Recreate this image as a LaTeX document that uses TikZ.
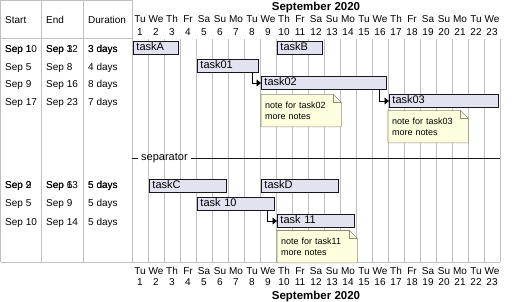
\documentclass[tikz,border=0pt]{standalone}
\usepackage{fontspec}
\setmainfont{Liberation Sans}
\usetikzlibrary{arrows.meta}
\definecolor{barFill}{HTML}{E2E2F0}
\definecolor{barLine}{HTML}{181818}
\definecolor{noteFill}{HTML}{FEFFDD}
\definecolor{noteLine}{HTML}{8A8A78}
\definecolor{gridGray}{HTML}{C0C0C0}
\pgfdeclarelayer{gridlayer}
\pgfdeclarelayer{notelayer}
\pgfsetlayers{gridlayer,notelayer,main}
\tikzset{
  gridline/.style={draw=gridGray, line width=0.8pt},
  cell/.style={anchor=west, inner sep=0pt, text height=7.5pt, text depth=2pt, font=\fontsize{10}{12}\selectfont},
  dayname/.style={inner sep=0pt, text height=7.5pt, text depth=0pt, font=\fontsize{10}{12}\selectfont},
  monthtitle/.style={inner sep=0pt, font=\bfseries\fontsize{11.5}{13}\selectfont},
  taskbar/.style={draw=barLine, fill=barFill, line width=0.9pt, anchor=west, minimum height=13pt,
    inner xsep=3pt, inner ysep=0pt, text width=#1, align=left, text height=8pt, text depth=2.5pt,
    font=\fontsize{11}{13}\selectfont},
  notetext/.style={anchor=north west, inner xsep=4pt, inner ysep=0pt, minimum height=32pt,
    text width=72pt, align=left, font=\fontsize{9}{11.5}\selectfont},
  notebox/.style={fill=noteFill, draw=noteLine, line width=0.6pt, line join=round},
  depline/.style={draw=black, line width=0.9pt, -{Triangle[length=4.5pt,width=7pt]}},
  septext/.style={anchor=west, inner xsep=3.5pt, inner ysep=0pt, font=\fontsize{11}{13}\selectfont},
  sepline/.style={draw=black!90, line width=0.9pt}
}
% note with a folded corner, drawn under the text of node #1
\newcommand{\NoteShape}[1]{%
  \begin{pgfonlayer}{notelayer}
    \draw[notebox] (#1.north west) -- ([xshift=-8pt]#1.north east) -- ([yshift=-8pt]#1.north east)
      -- (#1.south east) -- (#1.south west) -- cycle;
    \draw[notebox, fill=none] ([xshift=-8pt]#1.north east) -- ([xshift=-8pt,yshift=-8pt]#1.north east)
      -- ([yshift=-8pt]#1.north east);
  \end{pgfonlayer}}

\begin{document}
\begin{tikzpicture}[x=1pt,y=-1pt]
\useasboundingbox (0,0) rectangle (519,302);
% table frame and day columns
\begin{pgfonlayer}{gridlayer}
  \draw[gridline] (0.5,0.5) -- (132,0.5);
  \draw[gridline] (0.5,38.5) -- (132,38.5);
  \draw[gridline] (0.5,262) -- (500,262);
  \foreach \x in {0.5,41,83,132} \draw[gridline] (\x,0.5) -- (\x,262);
  \foreach \i in {1,...,23} \draw[gridline] ({132+16*\i},39) -- ({132+16*\i},262);
\end{pgfonlayer}

% calendar header and footer
\node[monthtitle] (monthTop) at (316,7.5) {September 2020};
\node[monthtitle] (monthBot) at (316,297) {September 2020};
\foreach \dn [count=\i] in {Tu,We,Th,Fr,Sa,Su,Mo,Tu,We,Th,Fr,Sa,Su,Mo,Tu,We,Th,Fr,Sa,Su,Mo,Tu,We}{
  \node[dayname] (nameTop\i) at ({124+16*\i},19) {\dn};
  \node[dayname] (numTop\i) at ({124+16*\i},31.5) {\i};
  \node[dayname] (nameBot\i) at ({124+16*\i},270.5) {\dn};
  \node[dayname] (numBot\i) at ({124+16*\i},282) {\i};
}

% table
\node[cell] (hStart) at (5,21) {Start};
\node[cell] (hEnd) at (46,21) {End};
\node[cell] (hDur) at (88,21) {Duration};
\node[cell] (s1a) at (5,49.5) {Sep 1};
\node[cell] (s1b) at (5,49.5) {Sep 10};
\node[cell] (e1a) at (46,49.5) {Sep 3};
\node[cell] (e1b) at (46,49.5) {Sep 12};
\node[cell] (d1a) at (88,49.5) {3 days};
\node[cell] (d1b) at (88,49.5) {3 days};
\node[cell] (s5a) at (5,186) {Sep 2};
\node[cell] (s5b) at (5,186) {Sep 9};
\node[cell] (e5a) at (46,186) {Sep 6};
\node[cell] (e5b) at (46,186) {Sep 13};
\node[cell] (d5a) at (88,186) {5 days};
\node[cell] (d5b) at (88,186) {5 days};
\foreach \y/\s/\e/\d [count=\r] in {67.3/Sep 5/Sep 8/4 days, 85/Sep 9/Sep 16/8 days,
    102.7/Sep 17/Sep 23/7 days, 204/Sep 5/Sep 9/5 days, 222.5/Sep 10/Sep 14/5 days}{
  \node[cell] (start\r) at (5,\y) {\s};
  \node[cell] (end\r) at (46,\y) {\e};
  \node[cell] (dur\r) at (88,\y) {\d};
}

% tasks
\node[taskbar=39pt] (tA) at (133,48) {taskA};
\node[taskbar=39pt] (tB) at (277,48) {taskB};
\node[taskbar=55pt] (t01) at (197,65.5) {task01};
\node[taskbar=119pt] (t02) at (261,83) {task02};
\node[taskbar=103pt] (t03) at (389,101) {task03};
\node[taskbar=71pt] (tC) at (149,185.5) {taskC};
\node[taskbar=71pt] (tD) at (261,185.5) {taskD};
\node[taskbar=71pt] (t10) at (197,203.5) {task 10};
\node[taskbar=71pt] (t11) at (277,221) {task 11};

\draw[depline] ([xshift=-6pt]t01.south east) |- (t02.west);
\draw[depline] ([xshift=-7pt]t02.south east) |- (t03.west);
\draw[depline] ([xshift=-7pt]t10.south east) |- (t11.west);

% notes
\node[notetext] (n02) at ([yshift=-4.5pt]t02.south west) {note for task02\\more notes};
\NoteShape{n02}
\node[notetext] (n03) at ([xshift=-1pt,yshift=-2.5pt]t03.south west) {note for task03\\more notes};
\NoteShape{n03}
\node[notetext] (n11) at ([yshift=-2.5pt]t11.south west) {note for task11\\more notes};
\NoteShape{n11}

% separator
\coordinate (sepL) at (132,158.5);
\coordinate (sepR) at (500,158.5);
\node[septext] (sepText) at (137.5,158.5) {separator};
\draw[sepline] (sepL) -- (sepText.west);
\draw[sepline] (sepText.east) -- (sepR);
\end{tikzpicture}
\end{document}
